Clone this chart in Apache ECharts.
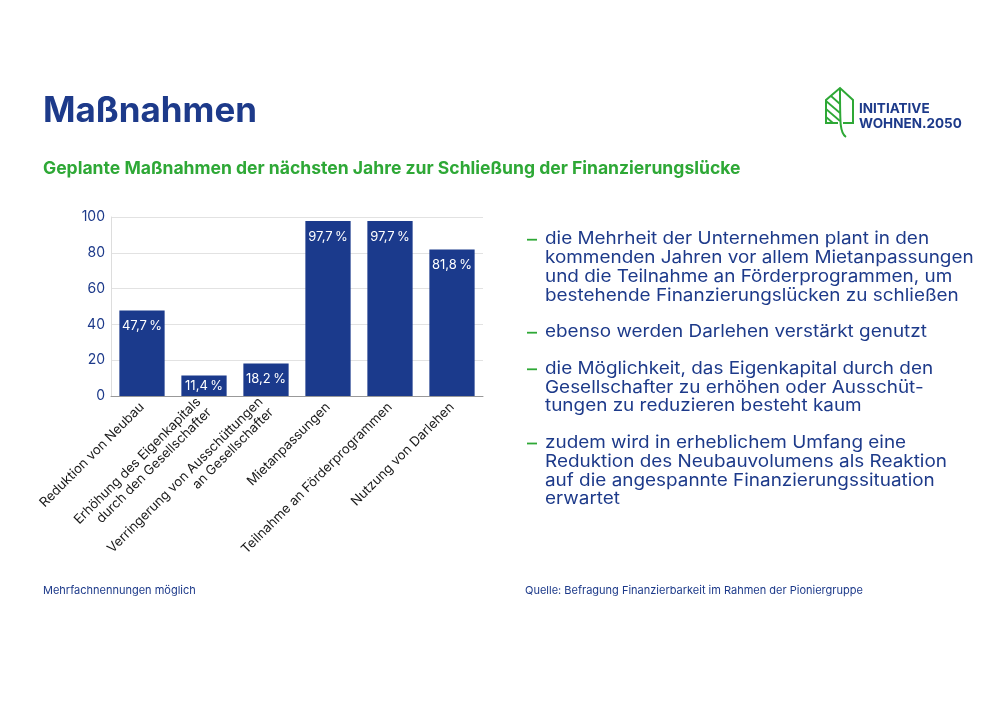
<!DOCTYPE html>
<html><head><meta charset="utf-8">
<script src="https://cdn.jsdelivr.net/npm/echarts@6/dist/echarts.min.js"></script>
<style>html,body{margin:0;padding:0;background:#fff}#c{width:1000px;height:707px}</style>
</head><body><div id="c"></div>
<script>
const categories = ["Reduktion von Neubau","Erhöhung des Eigenkapitals\ndurch den Gesellschafter","Verringerung von Ausschüttungen\nan Gesellschafter","Mietanpassungen","Teilnahme an Förderprogrammen","Nutzung von Darlehen"];
const values = [47.7, 11.4, 18.2, 97.7, 97.7, 81.8];
const yTicks = [0, 20, 40, 60, 80, 100];
const bullets = [
  ["die Mehrheit der Unternehmen plant in den","kommenden Jahren vor allem Mietanpassungen","und die Teilnahme an Förderprogrammen, um","bestehende Finanzierungslücken zu schließen"],
  ["ebenso werden Darlehen verstärkt genutzt"],
  ["die Möglichkeit, das Eigenkapital durch den","Gesellschafter zu erhöhen oder Ausschüt-","tungen zu reduzieren besteht kaum"],
  ["zudem wird in erheblichem Umfang eine","Reduktion des Neubauvolumens als Reaktion","auf die angespannte Finanzierungssituation","erwartet"]
];
const BLUE = '#1d3a8a', GREEN = '#2ea836', BAR = '#1b3a8c';
const FONT = 'Inter';

// fit font size so texts span a target total width
const cv = document.createElement('canvas').getContext('2d');
function fit(texts, weight, target){
  cv.font = weight + ' 100px ' + FONT;
  let w = 0; texts.forEach(t => w += cv.measureText(t).width);
  return 100 * target / w;
}
const titleSize = fit(['Maßnahmen'],'bold',214);
const subSize = fit(['Geplante Maßnahmen der nächsten Jahre zur Schließung der Finanzierungslücke'],'bold',698);
const bodySize = 17.2;
const bodyScale = fit([].concat(...bullets),'normal',4330) / bodySize;
const noteSize = fit(['Quelle: Befragung Finanzierbarkeit im Rahmen der Pioniergruppe'],'normal',338);

const chart = echarts.init(document.getElementById('c'), null, {renderer:'canvas'});
const graphics = [];
graphics.push({type:'text', x:43, y:111, style:{text:'Maßnahmen', font:'bold '+titleSize+'px '+FONT, fill:BLUE, textVerticalAlign:'middle'}});
graphics.push({type:'text', x:43, y:169, style:{text:'Geplante Maßnahmen der nächsten Jahre zur Schließung der Finanzierungslücke', font:'bold '+subSize+'px '+FONT, fill:GREEN, textVerticalAlign:'middle'}});
graphics.push({type:'text', x:43, y:591, style:{text:'Mehrfachnennungen möglich', font:noteSize+'px '+FONT, fill:BLUE, textVerticalAlign:'middle'}});
graphics.push({type:'text', x:525, y:591, style:{text:'Quelle: Befragung Finanzierbarkeit im Rahmen der Pioniergruppe', font:noteSize+'px '+FONT, fill:BLUE, textVerticalAlign:'middle'}});
// bullets
const lh = 18.8, gap = 17.8;
let y = 239 - lh/2;
bullets.forEach(b => {
  graphics.push({type:'rect', shape:{x:527, y:y+lh/2-0.2, width:10, height:1.8}, style:{fill:GREEN}});
  graphics.push({type:'text', x:545, y:y, scaleX:bodyScale, style:{x:0, y:0, text:b.join('\n'), font:bodySize+'px '+FONT, fill:BLUE, lineHeight:lh, textVerticalAlign:'top'}});
  y += b.length*lh + gap;
});
// logo
graphics.push({type:'polyline', shape:{points:[[838,123],[826,123],[826,100],[840,88],[853,100],[853,123],[843,123]]}, style:{stroke:GREEN, lineWidth:2, fill:null, lineJoin:'miter'}});
graphics.push({type:'bezierCurve', shape:{x1:840,y1:88,x2:846,y2:137,cpx1:840,cpy1:125,cpx2:840,cpy2:133}, style:{stroke:GREEN, lineWidth:2, fill:null}});
[[831,96,840,104],[826,101,840,113],[826,109,840,121],[826,117,833,123]].forEach(p=>{
  graphics.push({type:'line', shape:{x1:p[0],y1:p[1],x2:p[2],y2:p[3]}, style:{stroke:GREEN, lineWidth:1.8}});
});
graphics.push({type:'text', x:859, y:101, style:{text:'INITIATIVE\nWOHNEN.2050', font:'bold 13.5px '+FONT, fill:BLUE, lineHeight:15.5, textVerticalAlign:'top'}});

chart.setOption({
  backgroundColor:'#fff',
  animation:false,
  grid:{left:111, right:517, top:217, bottom:311},
  xAxis:{type:'category', data:categories,
    axisLine:{lineStyle:{color:'#999', width:1}}, axisTick:{show:false},
    axisLabel:{interval:0, rotate:45, color:'#1a1a1a', fontSize:13.2, fontFamily:FONT, margin:9, lineHeight:15}},
  yAxis:{type:'value', min:0, max:100, interval:20,
    axisLine:{show:true, lineStyle:{color:'#ddd'}}, axisTick:{show:false},
    splitLine:{lineStyle:{color:'#e2e2e2'}},
    axisLabel:{color:BLUE, fontSize:14, fontFamily:FONT, margin:6,
      formatter:v=> yTicks.includes(v) ? String(v) : ''}},
  series:[{type:'bar', barCategoryGap:'27%', itemStyle:{color:BAR},
    data: values.map(v => v < 15 ? {value:v, label:{position:'inside'}} : v),
    label:{show:true, position:'insideTop', distance:9, color:'#fff', fontSize:13, fontFamily:FONT,
      formatter:p=> String(p.value).replace('.', ',') + '\u202f%'}}],
  graphic:graphics
});
</script></body></html>
